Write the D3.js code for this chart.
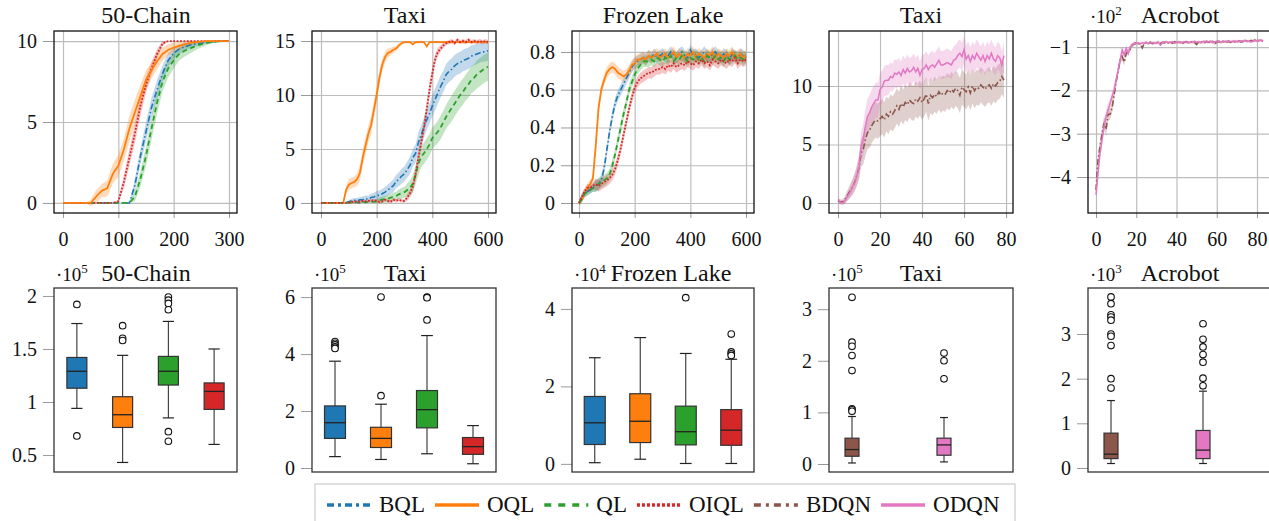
<!DOCTYPE html>
<html>
<head>
<meta charset="utf-8">
<script src="https://cdn.jsdelivr.net/npm/d3@7"></script>
<style>
body { margin: 0; background: #fff; }
svg { display: block; }
</style>
</head>
<body>
<svg id="chart" width="1269" height="521"></svg>
<script>
// ---- data ----
var methods = ['BQL', 'OQL', 'QL', 'OIQL', 'BDQN', 'ODQN'];
var colors = ['#1f77b4', '#ff7f0e', '#2ca02c', '#d62728', '#8c564b', '#e377c2'];

// 50-Chain, reward every 10 episodes (0..300)
var chainBQL = [0,0,0,0,0,0,0,0,0,0, 0,0,0,1.1,2.9,4.4,5.9,7.0,8.0,8.8, 9.25,9.5,9.65,9.75,9.82,9.88,9.92,9.96,10,10,10];
var chainOQL = [0,0,0,0,0,0,0.4,0.75,0.9,1.8, 2.3,3.3,4.6,5.6,6.6,7.6,8.2,8.75,9.2,9.45, 9.6,9.7,9.8,9.88,9.93,9.97,10,10,10,10,10];
var chainQL = [0,0,0,0,0,0,0,0,0,0, 0,0,0,0.4,1.5,2.9,4.6,6.2,7.5,8.3, 8.8,9.2,9.4,9.55,9.7,9.8,9.88,9.94,9.98,10,10];
var chainOIQL = [0,0,0,0,0,0,0,0,0,0, 0.1,1.3,2.8,4.3,6.0,7.3,8.3,9.2,9.85,10, 10,10,10,10,10,10,10,10,10,10,10];
var chainBQLsd = [0,0,0,0,0,0,0,0,0,0, 0,0,0,0.4,0.5,0.6,0.6,0.6,0.5,0.45, 0.35,0.3,0.25,0.2,0.15,0.1,0.08,0.05,0.02,0,0];
var chainOQLsd = [0,0,0,0,0,0.2,0.4,0.4,0.5,0.6, 0.7,0.7,0.8,0.8,0.7,0.6,0.5,0.5,0.4,0.35, 0.3,0.25,0.2,0.15,0.1,0.05,0,0,0,0,0];
var chainQLsd = [0,0,0,0,0,0,0,0,0,0, 0,0,0,0.3,0.5,0.6,0.7,0.7,0.6,0.55, 0.5,0.4,0.35,0.3,0.25,0.2,0.12,0.08,0.04,0,0];
var chainOIQLsd = [0,0,0,0,0,0,0,0,0,0, 0.1,0.4,0.5,0.6,0.6,0.5,0.4,0.3,0.15,0, 0,0,0,0,0,0,0,0,0,0,0];

// Taxi (tabular), every 10 episodes (0..600)
var taxiBQL = [0,0,0,0,0.05,0,0,0,0,0.05, 0.1,0.2,0.25,0.2,0.3,0.3,0.4,0.35,0.5,0.55,
  0.7,0.7,0.85,1.0,1.2,1.4,1.6,2.0,2.2,2.5, 2.7,3.1,3.5,4.2,4.6,5.6,6.3,7.0,7.7,8.3,
  9.0,9.6,10.2,10.8,11.3,11.9,12.2,12.4,12.7,12.9, 13.0,13.2,13.3,13.4,13.6,13.7,13.8,13.9,14.0,14.0,14.1];
var taxiOQL = [0,0,0,0,0,0,0,0,0,1.2, 1.7,1.85,1.95,2.2,2.8,4.2,5.3,6.4,7.2,8.6,
  10.0,11.6,12.8,13.5,13.9,14.0,14.2,14.3,14.6,14.8, 14.9,14.9,14.9,14.7,14.9,14.9,14.9,14.9,14.5,14.9,
  14.9,14.9,14.9,14.9,14.9,14.9,14.9,14.9,14.9,14.9, 14.9,14.9,14.9,14.9,14.9,14.9,14.9,14.9,14.9,14.9,14.9];
var taxiQL = [0,0,0,0,0,0,0,0,0,0, 0.05,0,0.05,0.05,0,0.1,0.05,0.1,0.1,0.1,
  0.15,0.25,0.3,0.35,0.4,0.5,0.55,0.65,0.8,0.9, 1.0,1.2,1.4,1.8,2.6,3.6,4.3,4.6,5.0,5.4,
  6.0,6.3,6.6,7.0,7.5,8.0,8.4,8.8,9.2,9.6, 10.0,10.3,10.7,11.0,11.4,11.6,11.9,12.1,12.3,12.5,12.6];
var taxiOIQL = [0,0,0,0,0,0,0,0,0,0, 0.05,0.1,0.1,0.15,0.1,0.2,0.15,0.2,0.2,0.25,
  0.2,0.1,0.15,0.3,0.2,0.1,0.3,0.2,0.3,0.2, 0.2,0.5,0.9,1.5,2.7,4.2,5.6,7.0,8.7,10.5,
  12.0,13.3,14.0,14.3,14.6,14.8,14.9,15.0,14.8,15.1, 14.9,15.0,14.9,15.1,14.9,15.0,14.9,15.0,14.9,15.0,14.9];
var taxiBQLsd = [0,0,0,0,0,0,0,0,0,0, 0.15,0.2,0.2,0.25,0.25,0.3,0.3,0.35,0.35,0.4,
  0.4,0.45,0.45,0.5,0.5,0.55,0.6,0.6,0.65,0.7, 0.7,0.75,0.8,0.8,0.85,0.9,0.9,0.9,0.95,0.95,
  1.0,1.0,1.0,1.0,1.0,1.0,1.0,1.0,1.0,1.0, 1.0,1.0,1.0,1.0,1.0,0.95,0.95,0.9,0.9,0.9,0.9];
var taxiOQLsd = [0,0,0,0,0,0,0,0,0,0.4, 0.5,0.5,0.5,0.6,0.7,0.8,0.8,0.8,0.8,0.8,
  0.8,0.7,0.6,0.5,0.4,0.35,0.3,0.25,0.2,0.15, 0.1,0.1,0.1,0.1,0.1,0.1,0.1,0.1,0.1,0.1,
  0.1,0.1,0.1,0.1,0.1,0.1,0.1,0.1,0.1,0.1, 0.1,0.1,0.1,0.1,0.1,0.1,0.1,0.1,0.1,0.1,0.1];
var taxiQLsd = [0.05,0.05,0.05,0.05,0.05,0.05,0.05,0.05,0.05,0.05, 0.05,0.05,0.05,0.05,0.05,0.05,0.05,0.05,0.05,0.05,
  0.2,0.25,0.3,0.3,0.35,0.35,0.4,0.4,0.45,0.5, 0.5,0.6,0.7,0.8,0.9,1.0,1.0,1.0,1.0,1.0,
  1.0,1.0,1.05,1.1,1.1,1.1,1.15,1.2,1.2,1.2, 1.2,1.2,1.2,1.25,1.25,1.25,1.3,1.3,1.3,1.3,1.3];
var taxiOIQLsd = [0,0,0,0,0,0,0,0,0,0, 0.15,0.15,0.15,0.15,0.15,0.15,0.15,0.15,0.15,0.15,
  0.15,0.15,0.15,0.15,0.15,0.15,0.15,0.15,0.15,0.15, 0.15,0.3,0.4,0.5,0.6,0.7,0.7,0.7,0.7,0.7,
  0.6,0.5,0.4,0.3,0.25,0.2,0.2,0.2,0.2,0.2, 0.2,0.2,0.2,0.2,0.2,0.2,0.2,0.2,0.2,0.2,0.2];

// Frozen Lake, every 10 episodes (0..600)
var lakeBQL = [0,0.03,0.05,0.06,0.07,0.08,0.09,0.1,0.12,0.18, 0.28,0.38,0.46,0.53,0.57,0.6,0.63,0.66,0.69,0.72,
  0.74,0.75,0.76,0.77,0.76,0.78,0.77,0.79,0.77,0.78, 0.79,0.77,0.78,0.8,0.78,0.77,0.79,0.8,0.78,0.77,
  0.81,0.78,0.79,0.77,0.78,0.8,0.78,0.77,0.79,0.8, 0.78,0.77,0.79,0.78,0.76,0.79,0.78,0.77,0.79,0.78,0.77];
var lakeOQL = [0,0.02,0.05,0.08,0.1,0.13,0.3,0.5,0.6,0.65, 0.69,0.71,0.72,0.71,0.69,0.68,0.67,0.68,0.7,0.73,
  0.74,0.76,0.76,0.77,0.76,0.78,0.77,0.78,0.79,0.77, 0.78,0.79,0.77,0.78,0.8,0.77,0.79,0.78,0.77,0.79,
  0.78,0.8,0.77,0.79,0.78,0.77,0.79,0.78,0.8,0.77, 0.79,0.78,0.77,0.79,0.78,0.8,0.77,0.78,0.79,0.77,0.78];
var lakeQL = [0,0.02,0.05,0.06,0.07,0.08,0.09,0.1,0.11,0.12, 0.13,0.15,0.2,0.26,0.33,0.4,0.47,0.53,0.6,0.64,
  0.68,0.71,0.73,0.75,0.75,0.75,0.76,0.75,0.77,0.76, 0.75,0.77,0.76,0.78,0.75,0.77,0.76,0.78,0.77,0.75,
  0.77,0.76,0.78,0.76,0.77,0.75,0.78,0.77,0.76,0.78, 0.76,0.77,0.75,0.78,0.76,0.77,0.78,0.76,0.77,0.76,0.77];
var lakeOIQL = [0,0.03,0.06,0.08,0.08,0.09,0.1,0.09,0.1,0.11, 0.12,0.13,0.15,0.18,0.23,0.29,0.36,0.43,0.5,0.56,
  0.61,0.64,0.66,0.67,0.68,0.69,0.69,0.7,0.71,0.71, 0.72,0.71,0.73,0.72,0.74,0.72,0.73,0.74,0.73,0.75,
  0.74,0.73,0.75,0.74,0.76,0.74,0.75,0.73,0.76,0.75, 0.74,0.76,0.75,0.74,0.76,0.75,0.77,0.74,0.76,0.75,0.76];
var lakeSd = [0.01,0.02,0.02,0.02,0.02,0.02,0.03,0.03,0.03,0.03, 0.03,0.03,0.03,0.03,0.03,0.03,0.03,0.03,0.03,0.03,
  0.03,0.03,0.03,0.03,0.03,0.03,0.03,0.03,0.03,0.03, 0.03,0.03,0.03,0.03,0.03,0.03,0.03,0.03,0.03,0.03,
  0.03,0.03,0.03,0.03,0.03,0.03,0.03,0.03,0.03,0.03, 0.03,0.03,0.03,0.03,0.03,0.03,0.03,0.03,0.03,0.03,0.03];

// Taxi (DQN), every episode (0..79)
var dqnTaxiBDQN = [0.2,0.1,0.1,0.2,0.5,0.8,1.1,1.4,1.8,2.4, 3.0,4.3,4.6,5.4,6.0,6.2,6.6,6.9,7.1,7.0,
  7.2,7.4,7.1,7.6,7.4,7.8,7.6,7.9,8.3,8.0, 8.5,8.2,8.6,8.4,8.8,8.6,8.5,8.9,8.7,9.0,
  8.6,8.9,9.3,8.5,9.2,9.0,9.3,9.1,9.5,9.2, 9.4,9.3,9.6,9.4,9.7,9.5,9.8,9.6,9.2,9.9,
  9.7,9.5,9.9,9.4,10.0,9.6,9.9,9.8,10.1,9.9, 9.7,10.0,10.1,9.8,10.2,10.0,10.3,10.4,10.8,10.5];
var dqnTaxiODQN = [0.3,0.1,0,0.1,0.4,0.7,1.0,1.4,1.8,2.3, 3.1,4.8,5.4,6.5,7.4,7.7,8.2,8.5,8.8,8.8,
  9.7,9.9,10.4,10.5,10.5,10.8,10.7,11.1,11.0,11.2, 10.9,11.4,11.1,11.5,11.2,11.3,11.6,11.2,11.5,10.9,
  11.4,11.5,11.8,11.4,11.7,11.8,11.6,11.9,12.2,11.8, 11.8,11.9,12.0,11.9,11.8,12.2,12.3,12.6,12.8,12.5,
  13.1,12.3,12.6,12.1,12.6,12.3,12.8,12.5,12.2,12.6, 12.1,12.6,12.3,12.8,12.3,12.1,12.6,12.4,11.8,12.6];
var dqnTaxiBDQNsd = [0.2,0.2,0.2,0.3,0.4,0.5,0.6,0.7,0.8,0.9, 1.0,1.2,1.3,1.4,1.4,1.5,1.5,1.5,1.5,1.5,
  1.5,1.5,1.5,1.5,1.5,1.5,1.5,1.5,1.5,1.5, 1.5,1.5,1.5,1.5,1.5,1.5,1.5,1.5,1.5,1.5,
  1.5,1.5,1.5,1.5,1.5,1.5,1.5,1.5,1.5,1.5, 1.5,1.5,1.5,1.5,1.5,1.5,1.5,1.5,1.5,1.5,
  1.5,1.5,1.5,1.5,1.5,1.5,1.5,1.5,1.5,1.5, 1.5,1.5,1.5,1.5,1.5,1.5,1.5,1.5,1.5,1.5];
var dqnTaxiODQNsd = [0.2,0.2,0.2,0.2,0.3,0.4,0.5,0.6,0.7,0.8, 1.0,1.3,1.4,1.5,1.5,1.5,1.5,1.5,1.5,1.5,
  1.4,1.4,1.3,1.3,1.3,1.2,1.2,1.2,1.2,1.2, 1.2,1.2,1.2,1.2,1.2,1.2,1.2,1.2,1.2,1.2,
  1.2,1.2,1.2,1.2,1.2,1.2,1.2,1.2,1.2,1.2, 1.2,1.2,1.2,1.2,1.2,1.2,1.2,1.2,1.2,1.2,
  1.2,1.2,1.2,1.2,1.2,1.2,1.2,1.2,1.2,1.2, 1.2,1.2,1.2,1.2,1.2,1.2,1.2,1.2,1.2,1.2];

// Acrobot (x 10^2), every episode (0..83)
var acroBDQN = [-4.3,-3.6,-3.3,-3.0,-2.75,-2.9,-2.55,-2.55,-2.4,-2.1, -1.8,-1.55,-1.3,-1.22,-1.35,-1.15,-1.1,-1.05,-0.95,-0.93,
  -0.9,-0.92,-0.93,-1.02,-0.91,-0.9,-0.92,-0.89,-0.92,-0.9, -0.91,-0.88,-0.92,-0.89,-0.9,-0.88,-0.9,-0.89,-0.91,-0.88,
  -0.89,-0.9,-0.88,-0.91,-0.89,-0.88,-0.9,-0.89,-0.88,-0.9, -0.94,-0.88,-0.89,-0.88,-0.9,-0.87,-0.89,-0.88,-0.87,-0.93,
  -0.88,-0.87,-0.89,-0.88,-0.86,-0.88,-0.87,-0.89,-0.86,-0.88, -0.87,-0.86,-0.88,-0.87,-0.85,-0.86,-0.87,-0.85,-0.86,-0.84,
  -0.86,-0.85,-0.85,-0.86];
var acroODQN = [-4.41,-3.91,-3.45,-3.14,-2.83,-2.6,-2.45,-2.3,-2.14,-1.99, -1.76,-1.53,-1.3,-1.07,-1.18,-1.03,-1.15,-0.99,-0.95,-0.92,
  -0.92,-0.91,-0.92,-0.9,-0.91,-0.89,-0.92,-0.9,-0.9,-0.91, -0.9,-0.89,-0.96,-0.9,-0.88,-0.89,-0.9,-0.89,-0.88,-0.91,
  -0.89,-0.88,-0.9,-0.89,-0.88,-0.89,-0.9,-0.88,-0.89,-0.87, -0.89,-0.88,-0.9,-0.88,-0.87,-0.89,-0.88,-0.87,-0.9,-0.88,
  -0.87,-0.88,-0.89,-0.87,-0.88,-0.87,-0.86,-0.88,-0.87,-0.86, -0.88,-0.87,-0.86,-0.87,-0.85,-0.87,-0.86,-0.88,-0.86,-0.85,
  -0.86,-0.85,-0.84,-0.86];
var acroSd = [0.1,0.15,0.15,0.15,0.15,0.15,0.15,0.12,0.12,0.12, 0.1,0.1,0.1,0.08,0.08,0.06,0.06,0.05,0.05,0.04,
  0.03,0.03,0.03,0.03,0.03,0.03,0.03,0.03,0.03,0.03, 0.03,0.03,0.03,0.03,0.03,0.03,0.03,0.03,0.03,0.03,
  0.03,0.03,0.03,0.03,0.03,0.03,0.03,0.03,0.03,0.03, 0.03,0.03,0.03,0.03,0.03,0.03,0.03,0.03,0.03,0.03,
  0.03,0.03,0.03,0.03,0.03,0.03,0.03,0.03,0.03,0.03, 0.03,0.03,0.03,0.03,0.03,0.03,0.03,0.03,0.03,0.03,
  0.03,0.03,0.03,0.03];

// box plots: [lower whisker, q1, median, q3, upper whisker]
var chainBox = [[0.94,1.13,1.29,1.42,1.74], [0.43,0.76,0.88,1.05,1.44], [0.85,1.16,1.29,1.43,1.76], [0.60,0.93,1.10,1.18,1.50]];
var chainOut = [[1.92,0.68], [1.72,1.60,1.58], [1.99,1.96,1.93,1.87,0.72,0.63], []];
var taxiBox = [[0.40,1.04,1.59,2.18,3.75], [0.30,0.72,1.04,1.43,2.24], [0.50,1.41,2.05,2.72,4.65], [0.15,0.48,0.75,1.07,1.49]];
var taxiOut = [[4.44,4.38,4.32,4.25,4.2], [2.54,6.0], [5.2,6.0,5.98], []];
var lakeBox = [[0.03,0.50,1.06,1.74,2.74], [0.12,0.55,1.10,1.81,3.26], [0.01,0.49,0.83,1.49,2.85], [0.01,0.48,0.87,1.40,2.70]];
var lakeOut = [[], [], [4.29], [3.35,2.89,2.84,2.8]];
var dqnTaxiBox = [[0.02,0.15,0.28,0.50,0.92], [0.04,0.17,0.37,0.50,0.90]];
var dqnTaxiOut = [[3.23,2.36,2.28,2.10,1.81,1.07,1.05,1.02], [2.15,2.0,1.65]];
var acroBox = [[0.10,0.21,0.31,0.78,1.51], [0.10,0.21,0.40,0.84,1.72]];
var acroOut = [[3.83,3.68,3.43,3.38,3.31,3.0,2.95,2.74,2.0,1.79], [3.23,2.88,2.71,2.54,2.37,2.01,1.84]];

// ---- drawing ----
var FONT = '"Liberation Serif", serif';
var svg = d3.select('#chart').attr('font-family', FONT);
var dashes = {BQL: '6,2.5,1.5,2.5', OQL: null, QL: '5,3.5', OIQL: '1.8,1.6', BDQN: '6,2.5,1.5,2.5', ODQN: null};
var lineW = {BQL: 1.6, OQL: 1.8, QL: 1.8, OIQL: 1.8, BDQN: 1.6, ODQN: 1.5};
var colorOf = d3.scaleOrdinal().domain(methods).range(colors);
var fmt = function(d){ return d3.format('~g')(d).replace('-', '\u2212'); };

var top1 = 31, bot1 = 213, top2 = 288, bot2 = 472;

function styleTicks(a) {
	a.select('.domain').remove();
	a.attr('font-family', FONT).attr('font-size', 20);
	a.selectAll('line').attr('stroke', '#999');
	a.selectAll('text').attr('fill', '#111');
}

function frameAxes(g, x, y, left, w, top, bot, xt, yt, grid) {
	if (grid) {
		g.append('g').attr('transform', 'translate(0,' + bot + ')')
			.call(d3.axisBottom(x).tickValues(xt).tickSize(-(bot - top)).tickFormat(''))
			.call(function(a){ a.select('.domain').remove(); a.selectAll('line').attr('stroke', '#bdbdbd').attr('stroke-width', 1.2); });
		g.append('g').attr('transform', 'translate(' + left + ',0)')
			.call(d3.axisLeft(y).tickValues(yt).tickSize(-w).tickFormat(''))
			.call(function(a){ a.select('.domain').remove(); a.selectAll('line').attr('stroke', '#bdbdbd').attr('stroke-width', 1.2); });
		g.append('g').attr('transform', 'translate(0,' + bot + ')')
			.call(d3.axisBottom(x).tickValues(xt).tickSize(5).tickPadding(14).tickFormat(fmt))
			.call(styleTicks);
	}
	g.append('g').attr('transform', 'translate(' + left + ',0)')
		.call(d3.axisLeft(y).tickValues(yt).tickSize(11).tickPadding(6).tickFormat(fmt))
		.call(styleTicks);
}

function title(txt, cx, base, exp, left) {
	svg.append('text').attr('x', cx).attr('y', base).attr('text-anchor', 'middle')
		.attr('font-family', FONT).attr('font-size', 24).attr('fill', '#111').text(txt);
	if (exp) {
		var t = svg.append('text').attr('x', left + 2).attr('y', base)
			.attr('font-family', FONT).attr('font-size', 19).attr('fill', '#111');
		t.append('tspan').text('\u00b710');
		t.append('tspan').attr('font-size', 13).attr('dy', -8).text(exp);
	}
}

var clipId = 0;
function linePanel(p) {
	var g = svg.append('g');
	var x = d3.scaleLinear().domain(p.xd).range([p.left, p.left + p.w]);
	var y = d3.scaleLinear().domain(p.yd).range([bot1, top1]);
	frameAxes(g, x, y, p.left, p.w, top1, bot1, p.xt, p.yt, true);
	var id = 'clip' + (clipId++);
	g.append('clipPath').attr('id', id).append('rect')
		.attr('x', p.left).attr('y', top1).attr('width', p.w).attr('height', bot1 - top1);
	var body = g.append('g').attr('clip-path', 'url(#' + id + ')');
	p.series.forEach(function(s){
		var pts = s.mean.map(function(v, i){ return {x: i * p.step, m: v, s: s.sd[i]}; });
		body.append('path').datum(pts)
			.attr('fill', colorOf(s.name)).attr('fill-opacity', 0.28)
			.attr('d', d3.area().x(function(d){ return x(d.x); })
				.y0(function(d){ return y(d.m - d.s); }).y1(function(d){ return y(d.m + d.s); }));
	});
	p.series.forEach(function(s){
		var pts = s.mean.map(function(v, i){ return {x: i * p.step, m: v}; });
		body.append('path').datum(pts)
			.attr('fill', 'none').attr('stroke', colorOf(s.name))
			.attr('stroke-width', lineW[s.name])
			.attr('stroke-dasharray', dashes[s.name])
			.attr('d', d3.line().x(function(d){ return x(d.x); }).y(function(d){ return y(d.m); }));
	});
	g.append('rect').attr('x', p.left).attr('y', top1).attr('width', p.w).attr('height', bot1 - top1)
		.attr('fill', 'none').attr('stroke', '#111').attr('stroke-width', 1.3);
	title(p.title, p.tx, 23, p.exp, p.left);
}

function boxPanel(p) {
	var g = svg.append('g');
	var x = d3.scaleLinear().domain([0.5, 4.5]).range([p.left, p.left + p.w]);
	var y = d3.scaleLinear().domain(p.yd).range([bot2, top2]);
	frameAxes(g, x, y, p.left, p.w, top2, bot2, [], p.yt, false);
	p.names.forEach(function(name, i){
		var b = p.boxes[i], cx = x(p.pos[i]), hw = p.bw / 2, cw = p.bw * 0.28;
		g.append('line').attr('x1', cx).attr('x2', cx).attr('y1', y(b[0])).attr('y2', y(b[1]))
			.attr('stroke', '#333').attr('stroke-width', 1.1);
		g.append('line').attr('x1', cx).attr('x2', cx).attr('y1', y(b[3])).attr('y2', y(b[4]))
			.attr('stroke', '#333').attr('stroke-width', 1.1);
		[b[0], b[4]].forEach(function(v){
			g.append('line').attr('x1', cx - cw).attr('x2', cx + cw).attr('y1', y(v)).attr('y2', y(v))
				.attr('stroke', '#222').attr('stroke-width', 1.2);
		});
		g.append('rect').attr('x', cx - hw).attr('y', y(b[3])).attr('width', p.bw).attr('height', y(b[1]) - y(b[3]))
			.attr('fill', colorOf(name)).attr('stroke', '#333').attr('stroke-width', 1.2);
		g.append('line').attr('x1', cx - hw).attr('x2', cx + hw).attr('y1', y(b[2])).attr('y2', y(b[2]))
			.attr('stroke', '#222').attr('stroke-width', 1.3);
		g.selectAll(null).data(p.outs[i]).join('circle')
			.attr('cx', cx).attr('cy', function(d){ return y(d); }).attr('r', 3.3)
			.attr('fill', '#fff').attr('stroke', '#111').attr('stroke-width', 1.1);
	});
	g.append('rect').attr('x', p.left).attr('y', top2).attr('width', p.w).attr('height', bot2 - top2)
		.attr('fill', 'none').attr('stroke', '#333').attr('stroke-width', 1.3);
	title(p.title, p.tx, 281, p.exp, p.left);
}

linePanel({left: 54, w: 183, xd: [-16.3, 314.5], yd: [-0.62, 10.62], xt: [0, 100, 200, 300], yt: [0, 5, 10], step: 10,
	title: '50-Chain', tx: 146,
	series: [{name: 'BQL', mean: chainBQL, sd: chainBQLsd}, {name: 'QL', mean: chainQL, sd: chainQLsd},
		{name: 'OIQL', mean: chainOIQL, sd: chainOIQLsd}, {name: 'OQL', mean: chainOQL, sd: chainOQLsd}]});
linePanel({left: 312, w: 184, xd: [-32.3, 628.8], yd: [-0.93, 15.93], xt: [0, 200, 400, 600], yt: [0, 5, 10, 15], step: 10,
	title: 'Taxi', tx: 405,
	series: [{name: 'BQL', mean: taxiBQL, sd: taxiBQLsd}, {name: 'OQL', mean: taxiOQL, sd: taxiOQLsd},
		{name: 'QL', mean: taxiQL, sd: taxiQLsd}, {name: 'OIQL', mean: taxiOIQL, sd: taxiOIQLsd}]});
linePanel({left: 572, w: 182, xd: [-25.1, 628.6], yd: [-0.053, 0.911], xt: [0, 200, 400, 600], yt: [0, 0.2, 0.4, 0.6, 0.8], step: 10,
	title: 'Frozen Lake', tx: 663,
	series: [{name: 'BQL', mean: lakeBQL, sd: lakeSd}, {name: 'OQL', mean: lakeOQL, sd: lakeSd},
		{name: 'QL', mean: lakeQL, sd: lakeSd}, {name: 'OIQL', mean: lakeOIQL, sd: lakeSd}]});
linePanel({left: 829, w: 184, xd: [-4.29, 83.3], yd: [-0.855, 14.7], xt: [0, 20, 40, 60, 80], yt: [0, 5, 10], step: 1,
	title: 'Taxi', tx: 921,
	series: [{name: 'BDQN', mean: dqnTaxiBDQN, sd: dqnTaxiBDQNsd}, {name: 'ODQN', mean: dqnTaxiODQN, sd: dqnTaxiODQNsd}]});
linePanel({left: 1088, w: 184, xd: [-3.98, 87.45], yd: [-4.83, -0.63], xt: [0, 20, 40, 60, 80], yt: [-4, -3, -2, -1], step: 1,
	title: 'Acrobot', tx: 1180, exp: '2',
	series: [{name: 'BDQN', mean: acroBDQN, sd: acroSd}, {name: 'ODQN', mean: acroODQN, sd: acroSd}]});

boxPanel({left: 54, w: 183, yd: [0.34, 2.075], yt: [0.5, 1, 1.5, 2], bw: 20, pos: [1, 2, 3, 4],
	names: ['BQL', 'OQL', 'QL', 'OIQL'], boxes: chainBox, outs: chainOut, title: '50-Chain', tx: 146, exp: '5'});
boxPanel({left: 312, w: 184, yd: [-0.14, 6.32], yt: [0, 2, 4, 6], bw: 21, pos: [1, 2, 3, 4],
	names: ['BQL', 'OQL', 'QL', 'OIQL'], boxes: taxiBox, outs: taxiOut, title: 'Taxi', tx: 405, exp: '5'});
boxPanel({left: 572, w: 182, yd: [-0.21, 4.54], yt: [0, 2, 4], bw: 21, pos: [1, 2, 3, 4],
	names: ['BQL', 'OQL', 'QL', 'OIQL'], boxes: lakeBox, outs: lakeOut, title: 'Frozen Lake', tx: 671, exp: '4'});
boxPanel({left: 829, w: 184, yd: [-0.155, 3.41], yt: [0, 1, 2, 3], bw: 14, pos: [1, 3],
	names: ['BDQN', 'ODQN'], boxes: dqnTaxiBox, outs: dqnTaxiOut, title: 'Taxi', tx: 921, exp: '5'});
boxPanel({left: 1088, w: 184, yd: [-0.09, 4.03], yt: [0, 1, 2, 3], bw: 14, pos: [1, 3],
	names: ['BDQN', 'ODQN'], boxes: acroBox, outs: acroOut, title: 'Acrobot', tx: 1180, exp: '3'});

// legend
var legDash = {BQL: '7,4,3,4', OQL: null, QL: '7,7', OIQL: '3,2', BDQN: '7,5,3,5', ODQN: null};
var leg = svg.append('g');
leg.append('rect').attr('x', 315).attr('y', 484).attr('width', 700).attr('height', 60)
	.attr('fill', '#fff').attr('stroke', '#ccc').attr('stroke-width', 1.2);
var lx = 327;
methods.forEach(function(m){
	leg.append('line').attr('x1', lx).attr('x2', lx + 44).attr('y1', 505).attr('y2', 505)
		.attr('stroke', colorOf(m)).attr('stroke-width', 3.5).attr('stroke-dasharray', legDash[m]);
	var t = leg.append('text').attr('x', lx + 52).attr('y', 512)
		.attr('font-family', FONT).attr('font-size', 23).attr('fill', '#111').text(m);
	lx += 44 + 8 + t.node().getComputedTextLength() + 10;
});
</script>
</body>
</html>
